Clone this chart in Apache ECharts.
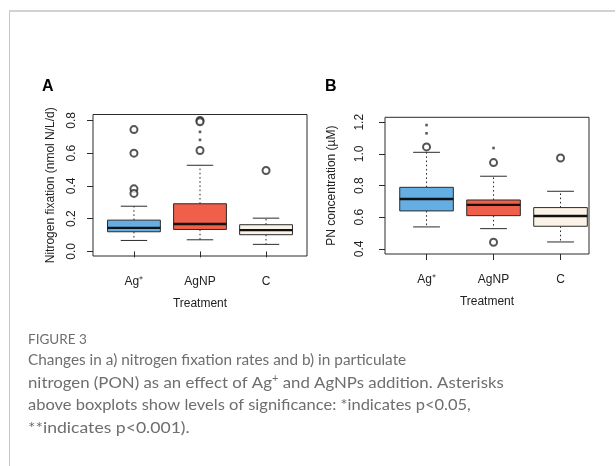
<!DOCTYPE html>
<html>
<head>
<meta charset="utf-8">
<script src="https://cdn.jsdelivr.net/npm/echarts@6/dist/echarts.min.js"></script>
<style>
html,body{margin:0;padding:0;background:#fff;}
#c{width:616px;height:466px;}
</style>
</head>
<body>
<div id="c"></div>
<script>
// ---- data ----
var categories = ['Ag\u207A', 'AgNP', 'C'];
// [lower whisker, Q1, median, Q3, upper whisker]
var nfixStats = [
  [0.067, 0.120, 0.144, 0.191, 0.276],
  [0.071, 0.134, 0.167, 0.291, 0.526],
  [0.043, 0.102, 0.130, 0.163, 0.203]
];
var nfixOutliers = [[0, 0.744], [0, 0.600], [0, 0.382], [0, 0.354], [1, 0.800], [1, 0.792], [1, 0.616], [2, 0.494]];
var nfixSignif = [[1, 0.730], [1, 0.681]];
var pnStats = [
  [0.539, 0.640, 0.715, 0.789, 1.010],
  [0.528, 0.610, 0.678, 0.709, 0.859],
  [0.444, 0.543, 0.608, 0.661, 0.764]
];
var pnOutliers = [[0, 1.044], [1, 0.945], [1, 0.442], [2, 0.974]];
var pnSignif = [[0, 1.182], [0, 1.130], [1, 1.037]];
var nfixTicks = [0, 0.2, 0.4, 0.6, 0.8];
var pnTicks = [0.4, 0.6, 0.8, 1.0, 1.2];
var catTicks = [1, 2, 3];

var boxColors = ['#64aee3', '#ef5f49', '#fbf2e8'];
var ink = '#2b2b2b';
var FONT = 'Liberation Sans, Arial, sans-serif';
var CAP = 'Lato, Open Sans, sans-serif';
var capColor = '#6e6e6e';

function boxData(stats) {
  return stats.map(function (s, i) { return [i + 1].concat(s); });
}
function ptData(list) {
  return list.map(function (p) { return [p[0] + 1, p[1]]; });
}

function renderBox(params, api) {
  var x = api.value(0);
  var lo = api.coord([x, api.value(1)]);
  var q1 = api.coord([x, api.value(2)]);
  var md = api.coord([x, api.value(3)]);
  var q3 = api.coord([x, api.value(4)]);
  var hi = api.coord([x, api.value(5)]);
  var w = api.size([0.8, 0])[0];
  var cx = lo[0];
  var hw = w / 2, cw = w / 4;
  var dash = { stroke: ink, lineWidth: 1, lineDash: [1.6, 2.6] };
  var solid = { stroke: ink, lineWidth: 1 };
  return {
    type: 'group',
    children: [
      { type: 'line', shape: { x1: cx, y1: q3[1], x2: cx, y2: hi[1] }, style: dash },
      { type: 'line', shape: { x1: cx, y1: q1[1], x2: cx, y2: lo[1] }, style: dash },
      { type: 'line', shape: { x1: cx - cw, y1: hi[1], x2: cx + cw, y2: hi[1] }, style: solid },
      { type: 'line', shape: { x1: cx - cw, y1: lo[1], x2: cx + cw, y2: lo[1] }, style: solid },
      { type: 'rect', shape: { x: cx - hw, y: q3[1], width: w, height: q1[1] - q3[1] },
        style: { fill: boxColors[params.dataIndex], stroke: ink, lineWidth: 1 } },
      { type: 'line', shape: { x1: cx - hw, y1: md[1], x2: cx + hw, y2: md[1] }, style: { stroke: '#111', lineWidth: 2.4 } }
    ]
  };
}

function xAxisCfg(gi, min, max) {
  return {
    type: 'value', gridIndex: gi, min: min, max: max,
    axisLine: { show: false },
    splitLine: { show: false },
    axisTick: { show: true, inside: false, length: 6, lineStyle: { color: ink }, customValues: catTicks },
    axisLabel: { customValues: catTicks, margin: 19.5, fontSize: 12, color: '#222', fontFamily: FONT,
      formatter: function (v) { return categories[Math.round(v) - 1]; } },
    name: 'Treatment', nameLocation: 'middle', nameGap: 42,
    nameTextStyle: { fontSize: 12, color: '#222', fontFamily: FONT }
  };
}
function yAxisCfg(gi, min, max, ticks, title, gap, lblMargin) {
  return {
    type: 'value', gridIndex: gi, min: min, max: max,
    axisLine: { show: false },
    splitLine: { show: false },
    axisTick: { show: true, inside: false, length: 6, lineStyle: { color: ink }, customValues: ticks },
    axisLabel: { customValues: ticks, rotate: 90, margin: lblMargin, fontSize: 12, color: '#222', fontFamily: FONT,
      formatter: function (v) { return v.toFixed(1); } },
    name: title, nameLocation: 'middle', nameGap: gap, nameRotate: 90,
    nameTextStyle: { fontSize: 12, color: '#222', fontFamily: FONT }
  };
}

function capLine(y, text, sx) {
  return { type: 'text', x: 28, y: y, scaleX: sx, scaleY: 1,
    style: { text: text, font: '16px ' + CAP, fill: capColor, verticalAlign: 'middle' } };
}

var chart = echarts.init(document.getElementById('c'), null, { renderer: 'canvas' });
var option = {
  backgroundColor: '#fff',
  animation: false,
  grid: [
    { left: 93, top: 114.5, width: 214, height: 141.5, show: true, borderColor: ink, borderWidth: 1, backgroundColor: 'transparent' },
    { left: 385, top: 117.3, width: 204, height: 136.7, show: true, borderColor: ink, borderWidth: 1, backgroundColor: 'transparent' }
  ],
  xAxis: [xAxisCfg(0, 0.38, 3.62), xAxisCfg(1, 0.38, 3.425)],
  yAxis: [
    yAxisCfg(0, -0.028, 0.836, nfixTicks, 'Nitrogen fixation (nmol N/L/d)', 36, 15),
    yAxisCfg(1, 0.368, 1.231, pnTicks, 'PN concentration (\u00B5M)', 47, 19)
  ],
  series: [
    { type: 'custom', xAxisIndex: 0, yAxisIndex: 0, renderItem: renderBox, data: boxData(nfixStats),
      encode: { x: 0, y: [1, 2, 3, 4, 5] }, clip: false },
    { type: 'scatter', xAxisIndex: 0, yAxisIndex: 0, data: ptData(nfixOutliers), symbol: 'emptyCircle', symbolSize: 7,
      itemStyle: { color: ink, borderColor: ink, borderWidth: 1 } },
    { type: 'scatter', xAxisIndex: 0, yAxisIndex: 0, data: ptData(nfixSignif), symbol: 'rect', symbolSize: 2.6,
      itemStyle: { color: '#333' } },
    { type: 'custom', xAxisIndex: 1, yAxisIndex: 1, renderItem: renderBox, data: boxData(pnStats),
      encode: { x: 0, y: [1, 2, 3, 4, 5] }, clip: false },
    { type: 'scatter', xAxisIndex: 1, yAxisIndex: 1, data: ptData(pnOutliers), symbol: 'emptyCircle', symbolSize: 7,
      itemStyle: { color: ink, borderColor: ink, borderWidth: 1 } },
    { type: 'scatter', xAxisIndex: 1, yAxisIndex: 1, data: ptData(pnSignif), symbol: 'rect', symbolSize: 2.6,
      itemStyle: { color: '#333' } }
  ],
  graphic: [
    { type: 'line', shape: { x1: 9, y1: 11, x2: 615, y2: 11 }, style: { stroke: '#d2d2d2', lineWidth: 2 } },
    { type: 'line', shape: { x1: 9.5, y1: 11, x2: 9.5, y2: 466 }, style: { stroke: '#c8c8c8', lineWidth: 1 } },
    { type: 'text', left: 42, top: 78.5, style: { text: 'A', font: 'bold 16px Liberation Sans, Arial, sans-serif', fill: '#000' } },
    { type: 'text', left: 325, top: 78.5, style: { text: 'B', font: 'bold 16px Liberation Sans, Arial, sans-serif', fill: '#000' } },
    { type: 'text', x: 28, y: 340, style: { text: 'FIGURE 3', font: '13.5px ' + CAP, fill: capColor, verticalAlign: 'middle' } },
    capLine(360, 'Changes in a) nitrogen fixation rates and b) in particulate', 0.96),
    { type: 'text', x: 28, y: 383, scaleX: 1.05, scaleY: 1, style: {
        text: '{n|nitrogen (PON) as an effect of Ag}{s|+}{n| and AgNPs addition. Asterisks}',
        verticalAlign: 'middle',
        rich: {
          n: { fontFamily: CAP, fontSize: 16, fill: capColor, lineHeight: 20, verticalAlign: 'middle' },
          s: { fontFamily: CAP, fontSize: 10.5, fill: capColor, lineHeight: 20, verticalAlign: 'top' }
        } } },
    capLine(405, 'above boxplots show levels of significance: *indicates p<0.05,', 1.03),
    capLine(427.5, '**indicates p<0.001).', 1.1)
  ]
};
chart.setOption(option);
</script>
</body>
</html>
